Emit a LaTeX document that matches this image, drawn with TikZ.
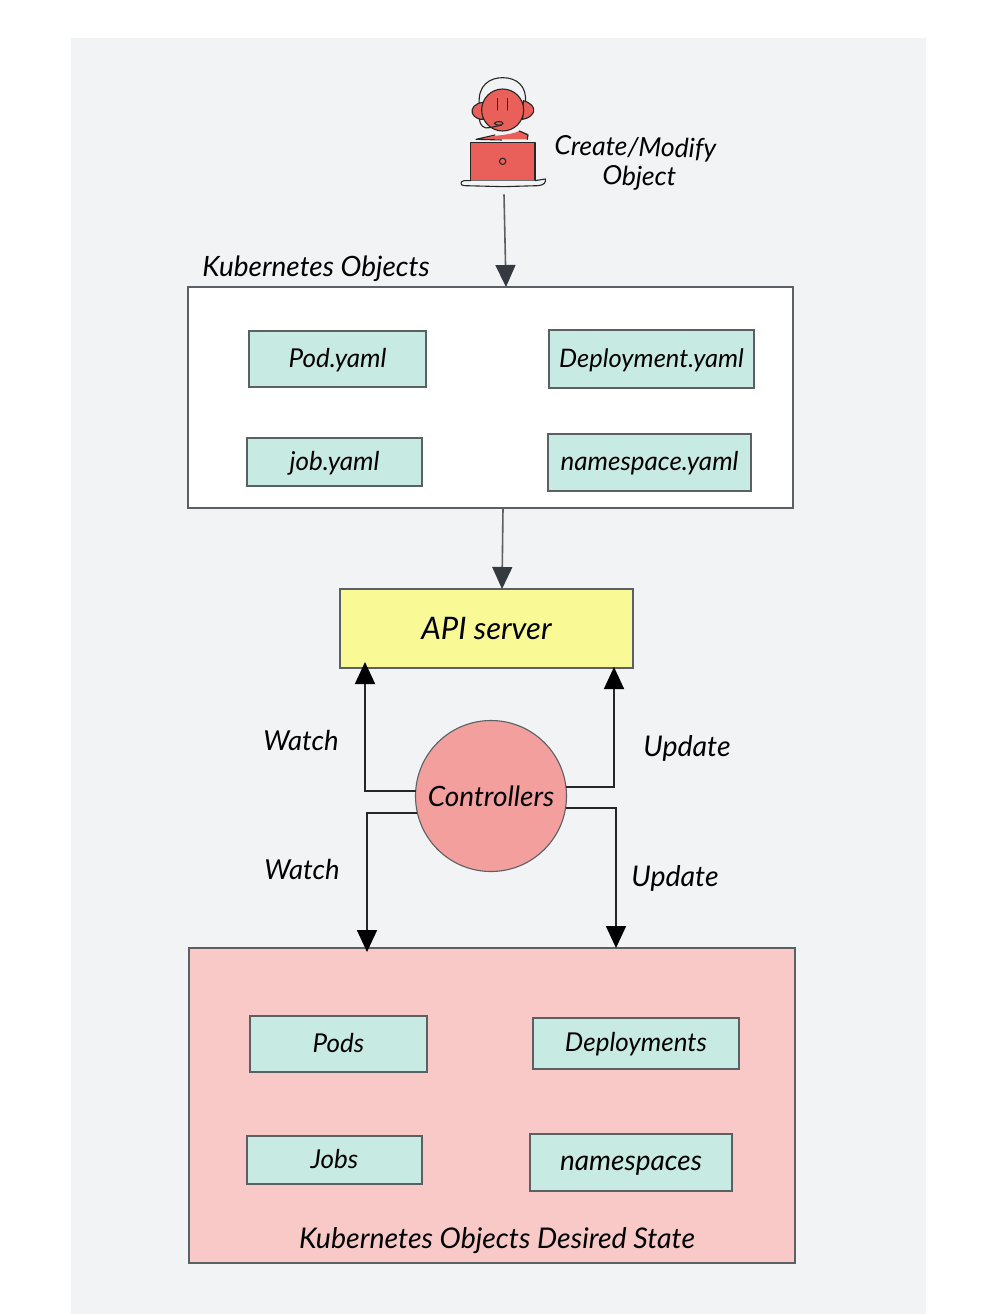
\documentclass[tikz,border=0pt]{standalone}
\usepackage{fontspec}
\setmainfont{Lato}
\usetikzlibrary{arrows.meta,calc}
\definecolor{pagebg}{HTML}{F1F3F5}
\definecolor{teal}{HTML}{C7EBE2}
\definecolor{apiy}{HTML}{F9FA96}
\definecolor{ctrlr}{HTML}{F29F9D}
\definecolor{deskp}{HTML}{F8C9C7}
\definecolor{persr}{HTML}{E9605A}
\definecolor{edge}{HTML}{5A6064}
\definecolor{tipd}{HTML}{343A40}
\tikzset{
  hand/.style={font=\itshape\fontsize{#1}{29}\selectfont, text=black, inner sep=0pt, outer sep=0pt},
  hand/.default=26,
  panel/.style={draw=edge, line width=1.1pt, inner sep=0pt, outer sep=0pt},
  yamlbox/.style={panel, fill=teal, hand=#1, text height=16pt, text depth=0pt},
  yamlbox/.default=26,
  arrdark/.style={draw=edge, line width=1.6pt, -{Triangle[length=22pt,width=20pt,color=tipd]}},
  arrblack/.style={draw=black!85, line width=1.7pt, -{Triangle[length=22pt,width=20pt,color=black]}},
  ink/.style={draw=black!85, line width=1.1pt, line cap=round, line join=round}
}
\begin{document}
\begin{tikzpicture}[x=1pt,y=-1pt]
\useasboundingbox (0,0) rectangle (988,1314);
\fill[white] (0,0) rectangle (988,1314);
\fill[pagebg] (71,38) rectangle (926,1314);

% person
\begin{scope}[shift={(440,60)},scale=0.3333]
  \coordinate (person) at (192,403);
  \draw[ink] (118,135) .. controls (112,75) and (150,53) .. (188,53) .. controls (232,53) and (262,80) .. (256,130);
  \draw[ink,fill=persr] (128,127) .. controls (105,130) and (92,145) .. (97,160) .. controls (102,172) and (118,180) .. (130,178) -- cycle;
  \draw[ink,fill=persr] (250,122) .. controls (272,128) and (285,142) .. (281,155) .. controls (276,168) and (262,176) .. (248,178) -- cycle;
  \draw[ink,fill=persr] (188,150) circle[radius=63];
  \draw[ink] (172,115) -- (172,150) (202,115) -- (202,150);
  \draw[ink] (118,178) .. controls (120,195) and (130,208) .. (150,203) -- (185,195);
  \draw[ink,fill=persr] (163,190) .. controls (170,183) and (187,183) .. (189,190) .. controls (187,197) and (168,198) .. (163,190) -- cycle;
  \fill[persr] (110,238) .. controls (150,225) and (210,228) .. (240,212) -- (265,222) -- (263,238) -- cycle;
  \draw[ink] (108,238) -- (165,225) (238,213) -- (264,225) -- (262,238) (108,238) -- (185,240);
  \draw[ink,fill=persr] (92,248) rectangle (285,362);
  \draw[ink] (188,304) circle[radius=9.5];
  \draw[ink,fill=pagebg] (92,362) -- (72,362) .. controls (60,364) and (60,376) .. (72,377) -- (190,380) -- (295,377) .. controls (312,375) and (318,368) .. (316,357) -- (285,362);
\end{scope}
\node[hand=26.5,align=center,rotate=-1] (create) at (635,163.5) {Create/Modify\\\hspace*{9pt}Object};

% top panel
\node[hand=28] (ktitle) at (316,269) {Kubernetes Objects};
\node[panel,fill=white,minimum width=605pt,minimum height=221pt] (objects) at (490.5,397.5) {};
\node[yamlbox=26,minimum width=177pt,minimum height=56pt] (pod) at (337.5,359) {Pod.yaml};
\node[yamlbox=25.5,minimum width=205pt,minimum height=58pt] (deploy) at (651.5,359) {Deployment.yaml};
\node[yamlbox=26,minimum width=175pt,minimum height=48pt] (job) at (334.5,462) {job.yaml};
\node[yamlbox=26,minimum width=203pt,minimum height=57pt] (nspace) at (649.5,462.5) {namespace.yaml};

% api
\node[panel,fill=apiy,hand=31,minimum width=293pt,minimum height=79pt] (api) at (486.5,628.5) {API server};

% bottom panel
\node[panel,fill=deskp,minimum width=606pt,minimum height=315pt] (desired) at (492,1105.5) {};
\node[yamlbox=26,minimum width=177pt,minimum height=56pt] (pods) at (338.5,1044) {Pods};
\node[yamlbox=26,minimum width=206pt,minimum height=51pt] (deps) at (636,1043.5) {Deployments};
\node[yamlbox=26,minimum width=175pt,minimum height=48pt] (jobs) at (334.5,1160) {Jobs};
\node[yamlbox=28,minimum width=202pt,minimum height=57pt] (nss) at (631,1162.5) {namespaces};
\node[hand=28.5] (dtitle) at (497,1241) {Kubernetes Objects Desired State};

% connectors
\draw[arrdark] (person) -- ($(objects.north west)+(318,0)$);
\draw[arrdark] ($(objects.south west)+(315,0)$) -- ($(api.north west)+(162,0)$);

\node[panel,circle,fill=ctrlr,hand=28,minimum size=151pt] (ctrl) at (491,796) {Controllers};
\draw[arrblack] (ctrl.176) -| ($(api.south west)+(25,-6)$);
\draw[arrblack] (ctrl.7) -| ($(api.south west)+(274,-1)$);
\draw[arrblack] (ctrl.193) -| ($(desired.north west)+(178,4)$);
\draw[arrblack] (ctrl.351) -| ($(desired.north west)+(427,0)$);

\node[hand=27.5] (w1) at (301,740) {Watch};
\node[hand=27.5] (w2) at (302,869) {Watch};
\node[hand=28.5] (u1) at (687,748) {Update};
\node[hand=28.5] (u2) at (675,878) {Update};
\end{tikzpicture}
\end{document}
